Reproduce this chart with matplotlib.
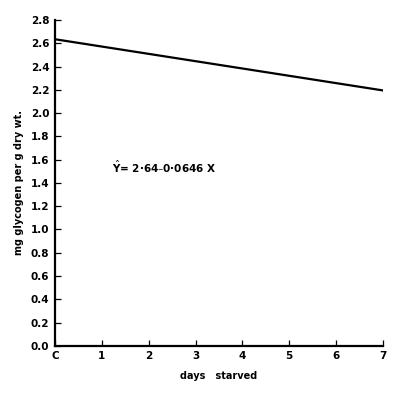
import matplotlib
matplotlib.use("Agg")
import matplotlib.pyplot as plt

# regression line end points
days = [0, 7]
glycogen = [2.635, 2.195]

x_ticks = [0, 1, 2, 3, 4, 5, 6, 7]
x_labels = ["C", "1", "2", "3", "4", "5", "6", "7"]
y_ticks = [0.0, 0.2, 0.4, 0.6, 0.8, 1.0, 1.2, 1.4, 1.6, 1.8, 2.0, 2.2, 2.4, 2.6, 2.8]

fig = plt.figure(figsize=(4.0, 3.93), dpi=100)
ax = fig.add_axes([0.1375, 0.12, 0.82, 0.829])

ax.plot(days, glycogen, color="black", linewidth=1.6)

ax.set_xlim(0, 7)
ax.set_ylim(0, 2.8)
ax.set_xticks(x_ticks)
ax.set_xticklabels(x_labels)
ax.set_yticks(y_ticks)
ax.set_yticklabels([f"{v:.1f}" for v in y_ticks])

for side in ("top", "right"):
    ax.spines[side].set_visible(False)
for side in ("left", "bottom"):
    ax.spines[side].set_linewidth(1.6)

ax.tick_params(direction="in", length=4, width=0.9, labelsize=7.5, pad=4)
for lbl in ax.get_xticklabels() + ax.get_yticklabels():
    lbl.set_fontweight("bold")

ax.set_xlabel("days   starved", fontsize=7, fontweight="bold", labelpad=7)
ax.set_ylabel("mg glycogen per g dry wt.", fontsize=7, fontweight="bold", labelpad=5)

ax.text(1.22, 1.54, r"$\hat{\mathbf{Y}}$= 2·64–0·0646 X", fontsize=7.5,
        fontweight="bold", va="center", ha="left")

fig.savefig("out.png", dpi=100)
